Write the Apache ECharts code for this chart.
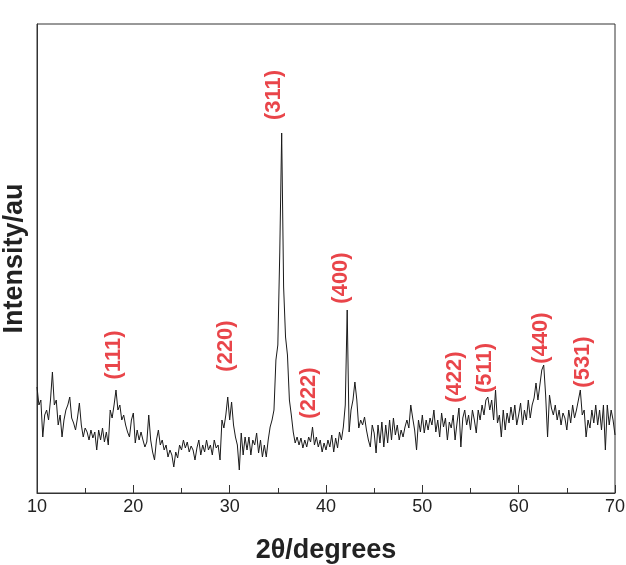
<!DOCTYPE html>
<html>
<head>
<meta charset="utf-8">
<script src="https://cdn.jsdelivr.net/npm/echarts@6/dist/echarts.min.js"></script>
<style>
  html, body { margin: 0; padding: 0; background: #fff; }
  #chart { width: 626px; height: 565px; }
</style>
</head>
<body>
<div id="chart"></div>
<script>
// 2θ from 10 to 70 in 0.2° steps
const thetaStart = 10;
const thetaStep = 0.2;

// intensity (arbitrary units), 5 values per degree
const intensity = [
  106, 88, 93, 56, 78,    // 10
  83, 73, 93, 121, 88,    // 11
  93, 68, 78, 56, 73,     // 12
  83, 88, 96, 75, 70,     // 13
  63, 75, 90, 68, 56,     // 14
  65, 61, 53, 63, 55,     // 15
  61, 43, 63, 53, 65,     // 16
  51, 61, 48, 83, 75,     // 17
  88, 103, 83, 88, 73,    // 18
  78, 68, 61, 56, 73,     // 19
  80, 50, 63, 53, 61,     // 20
  53, 46, 51, 78, 53,     // 21
  41, 33, 53, 63, 48,     // 22
  53, 43, 48, 36, 43,     // 23
  38, 26, 41, 35, 48,     // 24
  43, 53, 45, 51, 41,     // 25
  47, 43, 33, 45, 53,     // 26
  38, 48, 41, 53, 43,     // 27
  48, 38, 53, 45, 48,     // 28
  33, 73, 65, 78, 96,     // 29
  73, 91, 68, 56, 48,     // 30
  23, 60, 38, 56, 43,     // 31
  56, 38, 53, 48, 60,     // 32
  40, 53, 36, 48, 36,     // 33
  53, 66, 73, 83, 133,    // 34
  148, 240, 360, 206, 156, // 35
  138, 93, 78, 61, 50,    // 36
  56, 48, 55, 45, 53,     // 37
  46, 56, 51, 66, 48,     // 38
  56, 46, 53, 41, 50,     // 39
  43, 53, 46, 58, 41,     // 40
  55, 45, 61, 53, 66,     // 41
  88, 183, 61, 83, 93,    // 42
  111, 93, 65, 73, 68,    // 43
  76, 63, 53, 46, 68,     // 44
  60, 40, 68, 50, 71,     // 45
  46, 68, 50, 73, 53,     // 46
  75, 58, 68, 53, 63,     // 47
  56, 66, 73, 65, 88,     // 48
  75, 63, 43, 73, 61,     // 49
  78, 60, 73, 63, 75,     // 50
  68, 83, 61, 73, 56,     // 51
  80, 66, 75, 53, 71,     // 52
  65, 78, 53, 70, 85,     // 53
  46, 75, 83, 68, 78,     // 54
  63, 83, 73, 60, 83,     // 55
  73, 88, 78, 93, 96,     // 56
  83, 93, 73, 103, 70,    // 57
  78, 56, 83, 63, 80,     // 58
  70, 86, 73, 88, 68,     // 59
  78, 90, 68, 83, 73,     // 60
  93, 75, 88, 95, 110,    // 61
  93, 108, 123, 128, 98,  // 62
  56, 98, 85, 78, 88,     // 63
  73, 83, 68, 80, 75,     // 64
  63, 83, 70, 88, 75,     // 65
  83, 93, 103, 78, 83,    // 66
  56, 73, 65, 83, 70,     // 67
  88, 68, 83, 63, 88,     // 68
  43, 88, 68, 83, 73,     // 69
  58                      // 70
];

// peak labels (Miller indices) and where they sit
const peakNames = ['(111)', '(220)', '(311)', '(222)', '(400)', '(422)', '(511)', '(440)', '(531)'];
const peakTheta = [18.0, 29.6, 34.6, 38.25, 41.55, 53.4, 56.5, 62.3, 66.7];
const peakLabelY = [138, 147, 398, 100, 215, 116, 125, 155, 131];

const xTicks = [10, 20, 30, 40, 50, 60, 70];

const FONT = '"Liberation Sans", Arial, Helvetica, sans-serif';

const curve = intensity.map((v, i) => [+(thetaStart + i * thetaStep).toFixed(1), v]);
const labelPts = peakNames.map((n, i) => ({ value: [peakTheta[i], peakLabelY[i]], name: n }));

const chart = echarts.init(document.getElementById('chart'), null, { renderer: 'canvas' });

chart.setOption({
  animation: false,
  backgroundColor: '#fff',
  grid: {
    left: 37, right: 11, top: 24, bottom: 72,
    outerBoundsMode: 'none',
    containLabel: false,
    show: true, borderColor: '#333', borderWidth: 1
  },
  xAxis: {
    type: 'value',
    min: xTicks[0],
    max: xTicks[xTicks.length - 1],
    interval: 10,
    name: '2θ/degrees',
    nameLocation: 'middle',
    nameGap: 44,
    nameTextStyle: { fontFamily: FONT, fontWeight: 'bold', fontSize: 27, color: '#222' },
    axisLine: { show: true, lineStyle: { color: '#333', width: 1 } },
    axisTick: { show: true, inside: true, length: 8, lineStyle: { color: '#333' } },
    minorTick: { show: true, splitNumber: 2, length: 5, lineStyle: { color: '#333' } },
    axisLabel: { fontFamily: FONT, fontSize: 18, color: '#222', margin: 5 },
    splitLine: { show: false }
  },
  yAxis: {
    type: 'value',
    min: 0,
    max: 469,
    name: 'Intensity/au',
    nameLocation: 'middle',
    nameGap: 9,
    nameRotate: 90,
    nameTextStyle: { fontFamily: FONT, fontWeight: 'bold', fontSize: 27, color: '#222' },
    axisLine: { show: true, lineStyle: { color: '#333', width: 1 } },
    axisTick: { show: false },
    axisLabel: { show: false },
    splitLine: { show: false }
  },
  series: [
    {
      type: 'line',
      data: curve,
      showSymbol: false,
      symbol: 'none',
      lineStyle: { color: '#1a1a1a', width: 1 },
      silent: true
    },
    {
      type: 'scatter',
      data: labelPts,
      symbolSize: 0,
      silent: true,
      label: {
        show: true,
        position: 'inside',
        rotate: 90,
        formatter: (p) => p.name,
        fontFamily: FONT,
        fontWeight: 'bold',
        fontSize: 22,
        color: '#e3161d'
      }
    }
  ]
});
</script>
</body>
</html>
